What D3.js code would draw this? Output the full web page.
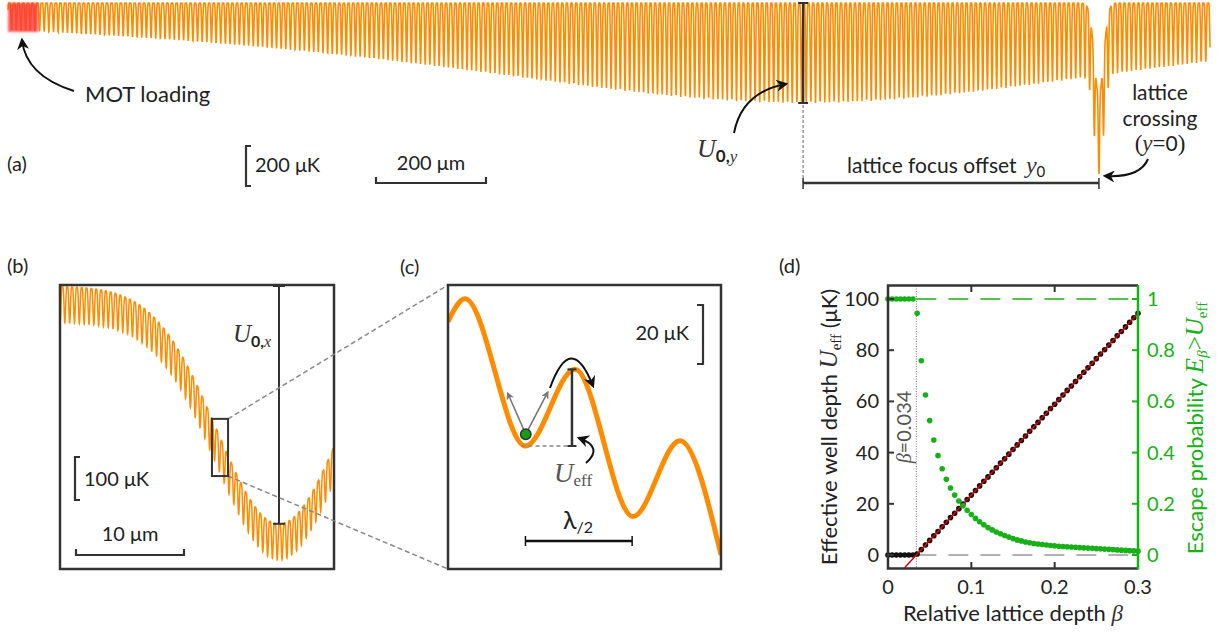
<!DOCTYPE html>
<html><head><meta charset="utf-8">
<script src="https://cdn.jsdelivr.net/npm/d3@7"></script>
<style>
body{margin:0;background:#fff;}
svg text{font-family:Lato,"Open Sans",sans-serif;fill:#222;font-weight:400;}
.m{font-family:"Liberation Serif","DejaVu Serif",serif;font-style:italic;font-weight:400;}
.s{font-family:"Liberation Serif","DejaVu Serif",serif;font-weight:400;}
</style></head><body>
<script>
// ================= DATA =================
// Panel (a): optical lattice potential along y (model parameters)
const aDomainUm   = [-1984, 202];   // y range shown (μm), y=0 at lattice crossing
const aFocusUm    = [-538];         // lattice focus offset y0 (μm)
const aDepthUK    = [500];          // U0,y (μK)
const aRayleighUm = [876];          // Rayleigh range (μm)
const aFringeUm   = [8.45];         // displayed fringe spacing (μm)
const aCrossUK    = [460, 35];      // crossing depth, extra modulation (μK)
const aCrossWUm   = [17];           // crossing beam waist (μm)
const aMotUm      = [-1984, -1929]; // MOT loading region (μm)
// Panel (b): cut along x
const bDomainUm   = [0, 25.37];
const bDepthUK    = [553];          // U0,x (μK)
const bCenterUm   = [20.28];
const bSigmaUm    = [5.74];
const bLatticeUK  = [84];
const bFringeUm   = [0.447];
const bZoomUm     = [14.07, 15.56];
const bZoomUK     = [-309, -442];
// Panel (c): extrema of the zoomed potential (x in units of λ/2, U in μK)
const cX = [0, 0.159, 0.726, 1.190, 1.734, 2.174, 2.559];
const cU = [-12.4, -4.7, -54.6, -28.6, -78.5, -52.8, -91.5];
const cBall = [0.729, -50.6];
// Panel (d)
const beta = [0,0.005,0.01,0.015,0.02,0.025,0.03,0.035,0.04,0.045,0.05,0.055,0.06,0.065,0.07,0.075,0.08,0.085,0.09,0.095,0.1,
  0.105,0.11,0.115,0.12,0.125,0.13,0.135,0.14,0.145,0.15,0.155,0.16,0.165,0.17,0.175,0.18,0.185,0.19,0.195,0.2,
  0.205,0.21,0.215,0.22,0.225,0.23,0.235,0.24,0.245,0.25,0.255,0.26,0.265,0.27,0.275,0.28,0.285,0.29,0.295,0.3];
const uEff = [0,0,0,0,0,0,0,0.4,2.1,3.9,5.7,7.5,9.2,11.0,12.8,14.6,16.3,18.1,19.9,21.7,23.4,25.2,27.0,28.8,30.5,32.3,
  34.1,35.9,37.6,39.4,41.2,43.0,44.7,46.5,48.3,50.1,51.8,53.6,55.4,57.2,58.9,60.7,62.5,64.3,66.0,67.8,69.6,71.4,73.1,
  74.9,76.7,78.5,80.2,82.0,83.8,85.6,87.3,89.1,90.9,92.7,94.4];
const pEsc = [1,1,1,1,1,1,1,0.944,0.759,0.625,0.525,0.449,0.388,0.337,0.296,0.262,0.234,0.211,0.192,0.175,0.158,0.143,
  0.130,0.118,0.107,0.098,0.090,0.083,0.076,0.070,0.064,0.059,0.055,0.051,0.048,0.045,0.043,0.041,0.039,0.037,0.036,
  0.034,0.033,0.032,0.031,0.030,0.029,0.028,0.027,0.026,0.025,0.024,0.023,0.022,0.021,0.020,0.019,0.018,0.017,0.016,0.015];
const fitBeta = [0.0199, 0.3];
const fitU    = [-5, 94.4];
const betaThreshold = [0.034];
const dYTicks = [0,20,40,60,80,100];
const dXTicks = [0,0.1,0.2,0.3];
const dRTicks = [0,0.2,0.4,0.6,0.8,1];

// ================= DRAW =================
const ORANGE="#ff8c00", GREEN="#17b017", DARK="#333";
const svg=d3.select("body").append("svg").attr("width",1222).attr("height",632);
svg.append("rect").attr("width",1222).attr("height",632).attr("fill","#fff");
const defs=svg.append("defs");
function marker(id,color,size){
  defs.append("marker").attr("id",id).attr("viewBox","0 0 10 10").attr("refX",8).attr("refY",5)
    .attr("markerWidth",size).attr("markerHeight",size).attr("markerUnits","userSpaceOnUse").attr("orient","auto")
    .append("path").attr("d","M0,0 L10,5 L0,10 L3,5 Z").attr("fill",color);
}
marker("ah","#111",12); marker("ahg","#777",8);
defs.append("filter").attr("id","blur").append("feGaussianBlur").attr("stdDeviation",1.2);
const well = (ph,n)=>Math.pow(Math.cos(ph),2*n);

// ---------- (a) ----------
const ax=d3.scaleLinear().domain(aDomainUm).range([8,1210]);
const ay=d3.scaleLinear().domain([0,-900]).range([3,183]);
function potA(y){
  const D=aDepthUK[0]/(1+((y-aFocusUm[0])/aRayleighUm[0])**2);
  const g=Math.exp(-2*y*y/aCrossWUm[0]**2);
  return -(D+aCrossUK[1]*g)*well(Math.PI*y/aFringeUm[0],3)-aCrossUK[0]*g;
}
const aPts=d3.range(0,4809).map(i=>{const y=aDomainUm[0]+i*(aDomainUm[1]-aDomainUm[0])/4808;return [y,potA(y)];});
svg.append("path").attr("d",d3.line().x(d=>ax(d[0])).y(d=>ay(d[1]))(aPts))
  .attr("fill","none").attr("stroke",ORANGE).attr("stroke-width",1.6);
svg.append("rect").attr("x",ax(aMotUm[0])).attr("y",ay(0)).attr("width",ax(aMotUm[1])-ax(aMotUm[0]))
  .attr("height",29).attr("fill","#ff3535").attr("opacity",0.78).attr("filter","url(#blur)");
// U0,y bar
const fx=ax(aFocusUm[0]);
svg.append("line").attr("x1",fx).attr("x2",fx).attr("y1",ay(0)).attr("y2",ay(-aDepthUK[0])).attr("stroke",DARK).attr("stroke-width",2.5);
[0,-aDepthUK[0]].forEach(u=>svg.append("line").attr("x1",fx-5).attr("x2",fx+5).attr("y1",ay(u)).attr("y2",ay(u)).attr("stroke",DARK).attr("stroke-width",2));
svg.append("line").attr("x1",fx).attr("x2",fx).attr("y1",ay(-aDepthUK[0])+2).attr("y2",183).attr("stroke","#888").attr("stroke-width",1.3).attr("stroke-dasharray","3,2");
// focus offset bar
svg.append("line").attr("x1",fx).attr("x2",ax(0)).attr("y1",183).attr("y2",183).attr("stroke",DARK).attr("stroke-width",2.5);
[fx,ax(0)].forEach(x=>svg.append("line").attr("x1",x).attr("x2",x).attr("y1",178).attr("y2",189).attr("stroke",DARK).attr("stroke-width",1.5));
// scale bars (a)
const h200=ay(-200)-ay(0);
svg.append("path").attr("d",`M251,146 H246 V${146+h200} H251`).attr("fill","none").attr("stroke",DARK).attr("stroke-width",2.2);
svg.append("text").attr("x",255).attr("y",172).attr("font-size",20).text("200 μK");
const w200=ax(200)-ax(0);
svg.append("path").attr("d",`M376,177 V183 H${376+w200} V177`).attr("fill","none").attr("stroke",DARK).attr("stroke-width",2.2);
svg.append("text").attr("x",376+w200/2).attr("y",170).attr("font-size",20).attr("text-anchor","middle").text("200 μm");
svg.append("text").attr("x",7).attr("y",171).attr("font-size",20).text("(a)");
svg.append("text").attr("x",85).attr("y",102).attr("font-size",22).text("MOT loading");
svg.append("path").attr("d","M74,91 Q26,76 22,40").attr("fill","none").attr("stroke","#111").attr("stroke-width",2).attr("marker-end","url(#ah)");
// U0,y label
let t=svg.append("text").attr("x",697).attr("y",157);
t.append("tspan").attr("class","m").attr("font-size",26).style("fill","#333").text("U");
t.append("tspan").attr("font-size",17).attr("dy",5).attr("font-weight",700).text("0,");
t.append("tspan").attr("class","m").attr("font-size",17).style("fill","#333").text("y");
svg.append("path").attr("d","M734,133 Q742,92 786,84").attr("fill","none").attr("stroke","#111").attr("stroke-width",2).attr("marker-end","url(#ah)");
t=svg.append("text").attr("x",847).attr("y",173).attr("font-size",21);
t.append("tspan").text("lattice focus offset ");
t.append("tspan").attr("class","m").attr("font-size",24).attr("dx",4).style("fill","#333").text("y");
t.append("tspan").attr("font-size",15).attr("dy",4).text("0");
[["lattice",100],["crossing",125.5]].forEach(d=>svg.append("text").attr("x",1160).attr("y",d[1]).attr("font-size",21).attr("text-anchor","middle").text(d[0]));
t=svg.append("text").attr("x",1160).attr("y",151).attr("font-size",21).attr("text-anchor","middle");
t.append("tspan").attr("class","s").attr("font-size",23).text("(");
t.append("tspan").attr("class","m").attr("font-size",23).style("fill","#333").text("y");
t.append("tspan").attr("class","s").attr("font-size",23).text("=");
t.append("tspan").text("0");
t.append("tspan").attr("class","s").attr("font-size",23).text(")");
svg.append("path").attr("d","M1148,159 Q1140,178 1105,176").attr("fill","none").attr("stroke","#111").attr("stroke-width",2).attr("marker-end","url(#ah)");

// ---------- (b) ----------
const bx=d3.scaleLinear().domain(bDomainUm).range([60,334]);
const by=d3.scaleLinear().domain([0,-660]).range([286,569.8]);
defs.append("clipPath").attr("id","clipb").append("rect").attr("x",60).attr("y",285).attr("width",274).attr("height",284);
function potB(x){
  const g=Math.exp(-((x-bCenterUm[0])**2)/(2*bSigmaUm[0]**2));
  return -bDepthUK[0]*g-bLatticeUK[0]*well(Math.PI*x/bFringeUm[0],2);
}
const bPts=d3.range(0,2201).map(i=>{const x=bDomainUm[0]+i*(bDomainUm[1]-bDomainUm[0])/2200;return [x,potB(x)];});
svg.append("path").attr("clip-path","url(#clipb)").attr("d",d3.line().x(d=>bx(d[0])).y(d=>by(d[1]))(bPts))
  .attr("fill","none").attr("stroke",ORANGE).attr("stroke-width",1.5);
svg.append("rect").attr("x",60).attr("y",285).attr("width",274).attr("height",284).attr("fill","none").attr("stroke",DARK).attr("stroke-width",2.5);
const bcx=bx(bCenterUm[0]);
svg.append("line").attr("x1",bcx).attr("x2",bcx).attr("y1",by(0)).attr("y2",by(-bDepthUK[0])).attr("stroke",DARK).attr("stroke-width",2);
[0,-bDepthUK[0]].forEach(u=>svg.append("line").attr("x1",bcx-6).attr("x2",bcx+6).attr("y1",by(u)).attr("y2",by(u)).attr("stroke",DARK).attr("stroke-width",2));
t=svg.append("text").attr("x",233).attr("y",342);
t.append("tspan").attr("class","m").attr("font-size",25).style("fill","#333").text("U");
t.append("tspan").attr("font-size",16).attr("dy",5).attr("font-weight",700).text("0,");
t.append("tspan").attr("class","m").attr("font-size",16).style("fill","#333").text("x");
// zoom box and connectors
const zx0=bx(bZoomUm[0]), zx1=bx(bZoomUm[1]), zy0=by(bZoomUK[0]), zy1=by(bZoomUK[1]);
svg.append("line").attr("x1",zx1).attr("y1",zy0).attr("x2",448).attr("y2",285).attr("stroke","#888").attr("stroke-width",1.5).attr("stroke-dasharray","5,3");
svg.append("line").attr("x1",zx1).attr("y1",zy1).attr("x2",448).attr("y2",569).attr("stroke","#888").attr("stroke-width",1.5).attr("stroke-dasharray","5,3");
svg.append("rect").attr("x",zx0).attr("y",zy0).attr("width",zx1-zx0).attr("height",zy1-zy0).attr("fill","none").attr("stroke",DARK).attr("stroke-width",2);
const h100=by(-100)-by(0);
svg.append("path").attr("d",`M80,457 H75 V${457+h100} H80`).attr("fill","none").attr("stroke",DARK).attr("stroke-width",2.2);
svg.append("text").attr("x",84).attr("y",486).attr("font-size",20).text("100 μK");
const w10=bx(10)-bx(0);
svg.append("path").attr("d",`M76,549 V555 H${76+w10} V549`).attr("fill","none").attr("stroke",DARK).attr("stroke-width",2.2);
svg.append("text").attr("x",76+w10/2).attr("y",541).attr("font-size",20).attr("text-anchor","middle").text("10 μm");
svg.append("text").attr("x",7).attr("y",273).attr("font-size",20).text("(b)");

// ---------- (c) ----------
const cx=d3.scaleLinear().domain([0,2.559]).range([448,721]);
const cy=d3.scaleLinear().domain([0,-96.3]).range([285,569]);
defs.append("clipPath").attr("id","clipc").append("rect").attr("x",448).attr("y",285).attr("width",273).attr("height",284);
svg.append("path").attr("clip-path","url(#clipc)")
  .attr("d",d3.line().x((d,i)=>cx(cX[i])).y((d,i)=>cy(cU[i])).curve(d3.curveMonotoneX)(cX))
  .attr("fill","none").attr("stroke",ORANGE).attr("stroke-width",5);
svg.append("rect").attr("x",448).attr("y",285).attr("width",273).attr("height",284).attr("fill","none").attr("stroke",DARK).attr("stroke-width",2.5);
const ux=cx(1.162);
svg.append("line").attr("x1",cx(cX[2])-4).attr("x2",ux+5).attr("y1",cy(cU[2])).attr("y2",cy(cU[2])).attr("stroke","#888").attr("stroke-width",1.5).attr("stroke-dasharray","4,3");
svg.append("line").attr("x1",ux).attr("x2",ux).attr("y1",cy(cU[3])).attr("y2",cy(cU[2])).attr("stroke",DARK).attr("stroke-width",2.5);
[cU[3],cU[2]].forEach(u=>svg.append("line").attr("x1",ux-4.5).attr("x2",ux+4.5).attr("y1",cy(u)).attr("y2",cy(u)).attr("stroke",DARK).attr("stroke-width",2));
const bpx=cx(cBall[0]), bpy=cy(cBall[1]);
svg.append("line").attr("x1",bpx).attr("y1",bpy).attr("x2",bpx-18).attr("y2",bpy-41).attr("stroke","#777").attr("stroke-width",1.6).attr("marker-end","url(#ahg)");
svg.append("line").attr("x1",bpx).attr("y1",bpy).attr("x2",bpx+22).attr("y2",bpy-42).attr("stroke","#777").attr("stroke-width",1.6).attr("marker-end","url(#ahg)");
svg.append("circle").attr("cx",bpx).attr("cy",bpy).attr("r",5.2).attr("fill","#12a012").attr("stroke","#333").attr("stroke-width",1.5);
svg.append("path").attr("d","M550,388 Q571,330 593,386").attr("fill","none").attr("stroke","#111").attr("stroke-width",2).attr("marker-end","url(#ah)");
svg.append("path").attr("d","M586,463 Q604,447 579,438").attr("fill","none").attr("stroke","#111").attr("stroke-width",2).attr("marker-end","url(#ah)");
t=svg.append("text").attr("x",554).attr("y",482);
t.append("tspan").attr("class","m").attr("font-size",27).style("fill","#555").text("U");
t.append("tspan").attr("class","s").attr("font-size",17).attr("dy",4).style("fill","#555").text("eff");
const h20=cy(-20)-cy(0);
svg.append("path").attr("d",`M697,305 H703 V${305+h20} H697`).attr("fill","none").attr("stroke",DARK).attr("stroke-width",2.2);
svg.append("text").attr("x",689).attr("y",340).attr("font-size",20).attr("text-anchor","end").text("20 μK");
const lx0=cx(cX[2]), lx1=cx(cX[2]+1);
svg.append("line").attr("x1",lx0).attr("x2",lx1).attr("y1",541).attr("y2",541).attr("stroke","#111").attr("stroke-width",2.5);
[lx0,lx1].forEach(x=>svg.append("line").attr("x1",x).attr("x2",x).attr("y1",536).attr("y2",546).attr("stroke","#111").attr("stroke-width",1.5));
t=svg.append("text").attr("x",563).attr("y",529);
t.append("tspan").attr("font-size",25).text("λ");
t.append("tspan").attr("font-size",16).attr("dy",4).text("/2");
svg.append("text").attr("x",400).attr("y",274).attr("font-size",20).text("(c)");

// ---------- (d) ----------
const dx=d3.scaleLinear().domain([0,0.3]).range([888,1138]);
const dy=d3.scaleLinear().domain([-5,105]).range([567.8,286.2]);
const dr=d3.scaleLinear().domain([-0.05,1.05]).range([567.8,286.2]);
defs.append("clipPath").attr("id","clipd").append("rect").attr("x",888).attr("y",286).attr("width",250).attr("height",282);
const gd=svg.append("g");
const tb=dx(betaThreshold[0]);
gd.append("line").attr("x1",tb).attr("x2",tb).attr("y1",286).attr("y2",568).attr("stroke","#777").attr("stroke-width",1).attr("stroke-dasharray","1,1.5");
gd.append("line").attr("x1",tb).attr("x2",1138).attr("y1",dr(1)).attr("y2",dr(1)).attr("stroke",GREEN).attr("stroke-width",1.5).attr("stroke-dasharray","20,12");
gd.append("line").attr("x1",tb).attr("x2",1138).attr("y1",dy(0)).attr("y2",dy(0)).attr("stroke","#999").attr("stroke-width",1.5).attr("stroke-dasharray","20,12");
gd.selectAll(".bd").data(beta).enter().append("circle").attr("cx",d=>dx(d)).attr("cy",(d,i)=>dy(uEff[i])).attr("r",2.8).attr("fill","#111");
gd.append("line").attr("clip-path","url(#clipd)").attr("x1",dx(fitBeta[0])).attr("y1",dy(fitU[0])).attr("x2",dx(fitBeta[1])).attr("y2",dy(fitU[1])).attr("stroke","#e00000").attr("stroke-width",1.4);
gd.selectAll(".gd").data(beta).enter().append("circle").attr("cx",d=>dx(d)).attr("cy",(d,i)=>dr(pEsc[i])).attr("r",2.8).attr("fill",GREEN);
// frame
gd.append("path").attr("d","M1138,285.5 H888 V568.5 H1138").attr("fill","none").attr("stroke",DARK).attr("stroke-width",2.5);
gd.append("line").attr("x1",1138).attr("x2",1138).attr("y1",285).attr("y2",569.5).attr("stroke",GREEN).attr("stroke-width",2.5);
dYTicks.forEach(v=>{
  gd.append("line").attr("x1",888).attr("x2",894).attr("y1",dy(v)).attr("y2",dy(v)).attr("stroke",DARK).attr("stroke-width",2);
  gd.append("text").attr("x",879).attr("y",dy(v)+7).attr("font-size",20).attr("text-anchor","end").text(v);
});
dRTicks.forEach(v=>{
  gd.append("line").attr("x1",1132).attr("x2",1138).attr("y1",dr(v)).attr("y2",dr(v)).attr("stroke",GREEN).attr("stroke-width",2);
  gd.append("text").attr("x",1147).attr("y",dr(v)+7).attr("font-size",20).style("fill",GREEN).text(v);
});
dXTicks.forEach(v=>{
  if(v>0&&v<0.3){
    gd.append("line").attr("x1",dx(v)).attr("x2",dx(v)).attr("y1",568).attr("y2",562).attr("stroke",DARK).attr("stroke-width",2);
    gd.append("line").attr("x1",dx(v)).attr("x2",dx(v)).attr("y1",286).attr("y2",292).attr("stroke",DARK).attr("stroke-width",2);
  }
  gd.append("text").attr("x",dx(v)).attr("y",594).attr("font-size",20).attr("text-anchor","middle").text(v);
});
t=gd.append("text").attr("x",1013).attr("y",621).attr("font-size",22).attr("text-anchor","middle");
t.append("tspan").text("Relative lattice depth ");
t.append("tspan").attr("class","m").attr("font-size",23).style("fill","#333").text("β");
t=gd.append("text").attr("transform","translate(837,427) rotate(-90)").attr("font-size",22).attr("text-anchor","middle");
t.append("tspan").text("Effective well depth ");
t.append("tspan").attr("class","m").attr("font-size",25).style("fill","#333").text("U");
t.append("tspan").attr("class","s").attr("font-size",15).attr("dy",4).text("eff");
t.append("tspan").attr("dy",-4).text(" (μK)");
t=gd.append("text").attr("transform","translate(1203,428) rotate(-90)").attr("font-size",22).attr("text-anchor","middle").style("fill",GREEN);
t.append("tspan").style("fill",GREEN).text("Escape probability ");
t.append("tspan").attr("class","m").attr("font-size",25).style("fill",GREEN).text("E");
t.append("tspan").attr("class","m").attr("font-size",15).attr("dy",4).style("fill",GREEN).text("β");
t.append("tspan").attr("class","s").attr("font-size",25).attr("dy",-4).style("fill",GREEN).text(">");
t.append("tspan").attr("class","m").attr("font-size",25).style("fill",GREEN).text("U");
t.append("tspan").attr("class","s").attr("font-size",15).attr("dy",4).style("fill",GREEN).text("eff");
t=gd.append("text").attr("transform",`translate(${tb-5},427) rotate(-90)`).attr("font-size",20).attr("text-anchor","middle").style("fill","#555");
t.append("tspan").attr("class","m").style("fill","#555").text("β");
t.append("tspan").style("fill","#555").text("=0.034");
svg.append("text").attr("x",779).attr("y",273).attr("font-size",20).text("(d)");
</script>
</body></html>
